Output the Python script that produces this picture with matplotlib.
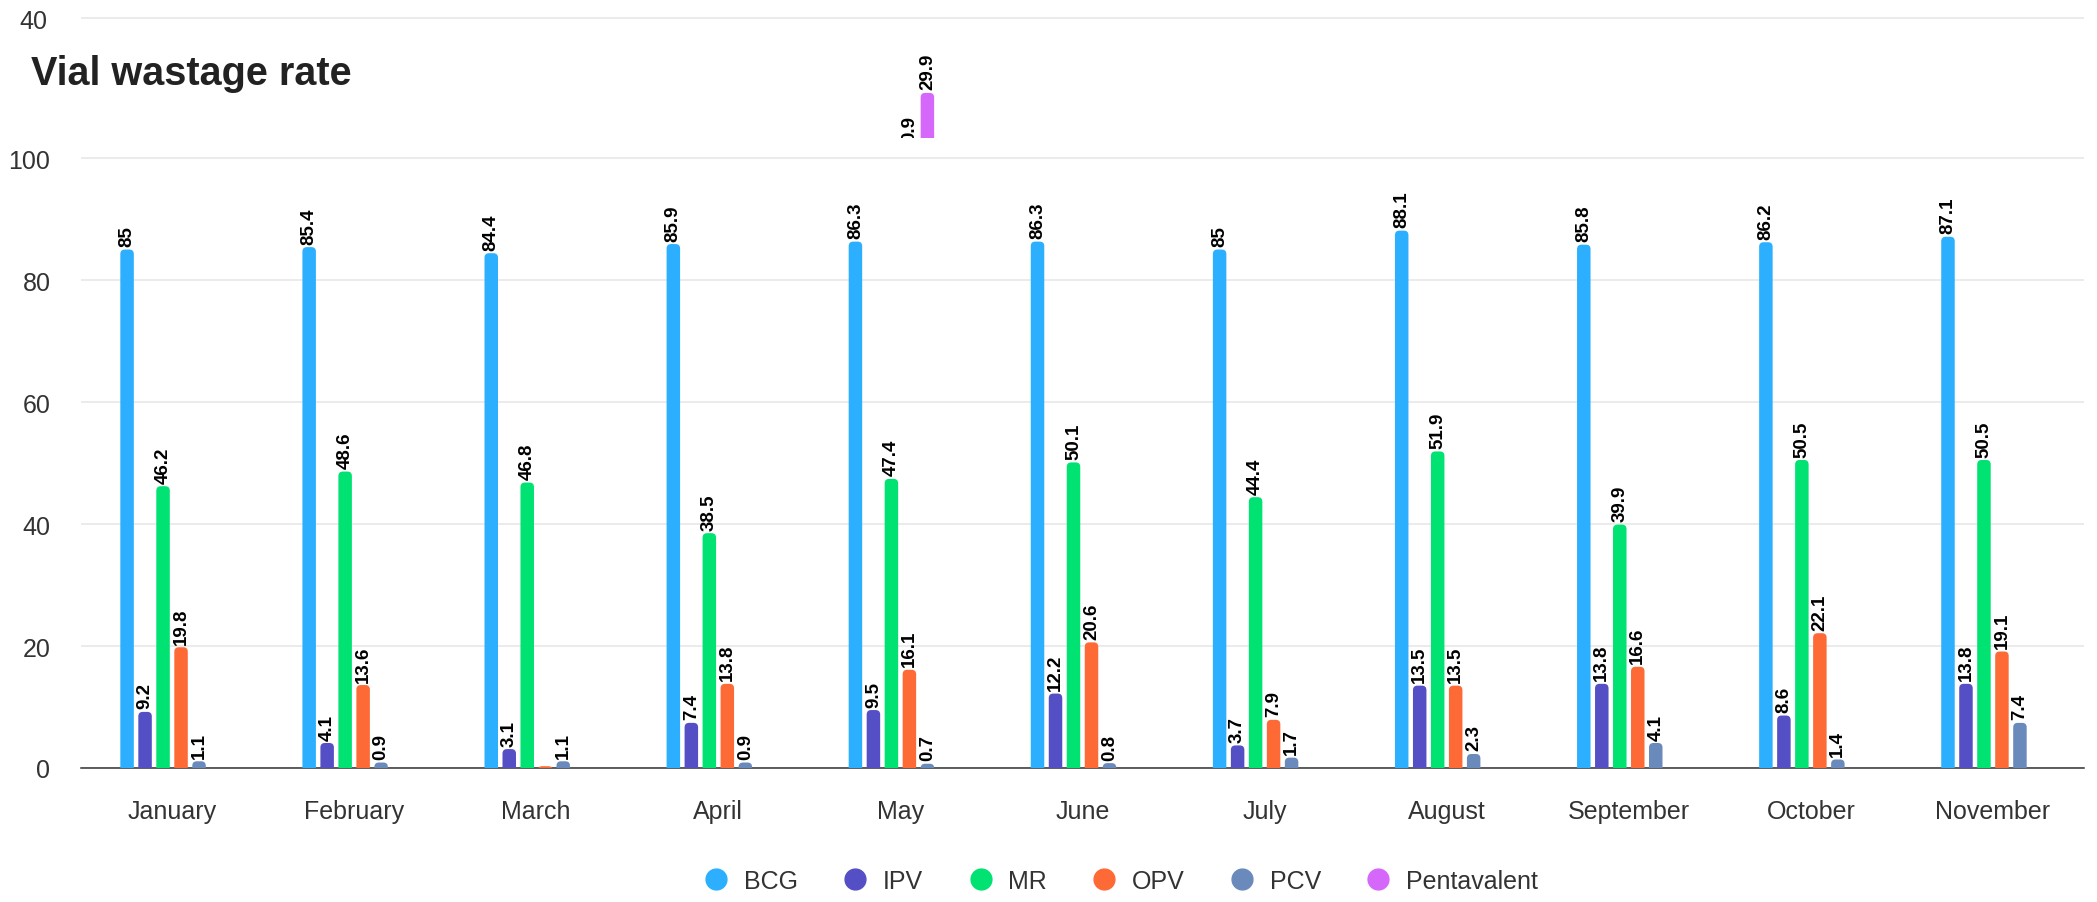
import matplotlib
matplotlib.use("Agg")
import matplotlib.pyplot as plt
from matplotlib.lines import Line2D
from matplotlib.patches import PathPatch
from matplotlib.path import Path

months = ["January", "February", "March", "April", "May", "June", "July",
          "August", "September", "October", "November"]
series_names = ["BCG", "IPV", "MR", "OPV", "PCV", "Pentavalent"]
bcg = [85, 85.4, 84.4, 85.9, 86.3, 86.3, 85, 88.1, 85.8, 86.2, 87.1]
ipv = [9.2, 4.1, 3.1, 7.4, 9.5, 12.2, 3.7, 13.5, 13.8, 8.6, 13.8]
mr = [46.2, 48.6, 46.8, 38.5, 47.4, 50.1, 44.4, 51.9, 39.9, 50.5, 50.5]
opv = [19.8, 13.6, 0.3, 13.8, 16.1, 20.6, 7.9, 13.5, 16.6, 22.1, 19.1]
pcv = [1.1, 0.9, 1.1, 0.9, 0.7, 0.8, 1.7, 2.3, 4.1, 1.4, 7.4]
pentavalent = [0, 0, 0, 0, 29.9, 0, 0, 0, 0, 0, 0]
colors = ["#2caffe", "#544fc5", "#00e272", "#fe6a35", "#6b8abc", "#d568fb"]

# labels Highcharts dropped because they collided
hidden_labels = {("OPV", "March")}
upper_stray_label = "0.9"

plt.rcParams["font.family"] = ["Liberation Sans", "DejaVu Sans"]

W, H = 2097, 903
fig = plt.figure(figsize=(W / 100, H / 100), dpi=100)


def px_box(left, top, right, bottom):
    return [left / W, 1 - bottom / H, (right - left) / W, (bottom - top) / H]


ax = fig.add_axes(px_box(81, 156, 2084, 769))
ax_top = fig.add_axes(px_box(81, 17, 2084, 139))

n = len(months)
pitch = 0.0988
bar_w = 0.0741
offsets = [(i - 2.5) * pitch for i in range(len(series_names))]

ax.set_xlim(-0.5, n - 0.5)
ax.set_ylim(0, 100.5)
ax_top.set_xlim(-0.5, n - 0.5)
ax_top.set_ylim(23.8, 40.3)


def rounded_bar(axis, x, h, color, r_px=4.5):
    p0 = axis.transData.transform((0, 0))
    p1 = axis.transData.transform((1, 1))
    rx = min(r_px / (p1[0] - p0[0]), bar_w / 2)
    ry = min(r_px / (p1[1] - p0[1]), h)
    x0, x1 = x - bar_w / 2, x + bar_w / 2
    verts = [(x0, 0), (x0, h - ry), (x0, h), (x0 + rx, h), (x1 - rx, h),
             (x1, h), (x1, h - ry), (x1, 0), (x0, 0)]
    codes = [Path.MOVETO, Path.LINETO, Path.CURVE3, Path.CURVE3, Path.LINETO,
             Path.CURVE3, Path.CURVE3, Path.LINETO, Path.CLOSEPOLY]
    axis.add_patch(PathPatch(Path(verts, codes), facecolor=color,
                             edgecolor="none", zorder=3))


def bar_label(axis, x, h, text, dy=2.5, clip=False):
    return axis.annotate(text, (x, h), xytext=(0, dy), textcoords="offset points",
                         rotation=90, ha="center", va="bottom", fontsize=13.5,
                         fontweight="bold", color="black",
                         annotation_clip=False, clip_on=clip, zorder=4)


lower_series = [bcg, ipv, mr, opv, pcv]
for s, (name, values) in enumerate(zip(series_names, lower_series)):
    for i, v in enumerate(values):
        if v <= 0:
            continue
        x = i + offsets[s]
        rounded_bar(ax, x, v, colors[s])
        if (name, months[i]) not in hidden_labels:
            bar_label(ax, x, v, f"{v:g}")

# upper pane of the broken axis
upper_slot = 4
for i, v in enumerate(pentavalent):
    if v <= 0:
        continue
    x = i + offsets[upper_slot]
    rounded_bar(ax_top, x, v, colors[5])
    bar_label(ax_top, x, v, f"{v:g}")
    bar_label(ax_top, i + offsets[upper_slot - 1], 23.8, upper_stray_label,
              dy=-2.5, clip=True)

ax.set_xticks(range(n), months)
ax.set_yticks([0, 20, 40, 60, 80, 100])
ax.tick_params(axis="both", length=0, labelsize=18, labelcolor="#333333")
ax.tick_params(axis="x", pad=22)
ax.tick_params(axis="y", pad=22)
ax.set_axisbelow(True)
ax.yaxis.grid(True, color="#e6e6e6", linewidth=1.1)
for side in ["top", "right", "left"]:
    ax.spines[side].set_visible(False)
ax.spines["bottom"].set_color("#333333")
ax.spines["bottom"].set_linewidth(1.1)
ax.spines["bottom"].set_zorder(2)

ax_top.set_xticks([])
ax_top.set_yticks([40])
ax_top.tick_params(axis="y", length=0, labelsize=18, labelcolor="#333333", pad=24)
ax_top.set_axisbelow(True)
ax_top.yaxis.grid(True, color="#e6e6e6", linewidth=1.1)
for side in ax_top.spines:
    ax_top.spines[side].set_visible(False)
ax_top.patch.set_alpha(0)

fig.text(31 / W, 1 - 85 / H, "Vial wastage rate", fontsize=28.5,
         fontweight="bold", color="#222222", va="baseline", ha="left")

handles = [Line2D([], [], marker="o", linestyle="none", markersize=15,
                  markerfacecolor=c, markeredgecolor=c) for c in colors]
fig.legend(handles, series_names, loc="center", bbox_to_anchor=(1122 / W, 1 - 882 / H),
           ncol=6, frameon=False, fontsize=18, handlelength=0.8,
           handletextpad=0.7, columnspacing=1.9, labelcolor="#333333")

fig.savefig("out.png", dpi=100)
